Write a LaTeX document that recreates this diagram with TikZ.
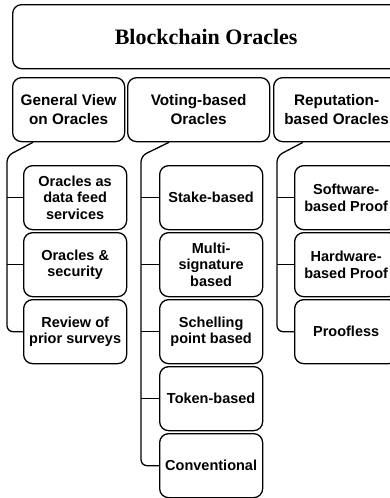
\documentclass[tikz,border=0pt]{standalone}
\usepackage{fontspec}
\setmainfont{Liberation Sans}
\newfontfamily\titlefont{Liberation Serif}
\begin{document}
\begin{tikzpicture}[x=1pt,y=-1pt,
  box/.style={draw, line width=1.3pt, rounded corners=9pt, inner sep=0pt, align=center,
    anchor=north west, minimum height=64pt, font=\fontsize{14.5}{16.5}\selectfont\bfseries},
  head/.style={box, font=\fontsize{15.3}{19}\selectfont\bfseries},
  leaf/.style={box, minimum width=103pt},
  conn/.style={line width=1.3pt, rounded corners=6pt}]
\useasboundingbox (0,0) rectangle (390,498);
\clip (0,0) rectangle (390,498);
% root
\node[box, minimum width=387pt, font=\titlefont\fontsize{22}{26}\selectfont\bfseries] (root) at (12,4) {Blockchain Oracles};
% heads
\node[head, minimum width=112pt] (gen) at (12,77) {General View\\on Oracles};
\node[head, minimum width=142pt] (vot) at (127,77) {Voting-based\\Oracles};
\node[head, minimum width=126pt] (rep) at (273,77) {Reputation-\\based Oracles};
% column 1
\node[leaf] (g1) at (23,165) {Oracles as\\data feed\\services};
\node[leaf] (g2) at (23,232) {Oracles \&\\security};
\node[leaf] (g3) at (23,299) {Review of\\prior surveys};
% column 2
\node[leaf] (v1) at (159,165) {Stake-based};
\node[leaf] (v2) at (159,232) {Multi-\\signature\\based};
\node[leaf] (v3) at (159,299) {Schelling\\point based};
\node[leaf] (v4) at (159,366) {Token-based};
\node[leaf] (v5) at (159,433) {Conventional};
% column 3
\node[leaf] (r1) at (294,165) {Software-\\based Proof};
\node[leaf] (r2) at (294,232) {Hardware-\\based Proof};
\node[leaf] (r3) at (294,299) {Proofless};
% connectors
\coordinate (t1) at (7,156);
\coordinate (t2) at (141,156);
\coordinate (t3) at (277,156);
\draw[conn] ([xshift=21pt]gen.south west) -- (t1) |- (g3.west);
\draw[conn] (g1.west) -- (g1.west -| t1);
\draw[conn] (g2.west) -- (g2.west -| t1);
\draw[conn] ([xshift=42pt]vot.south west) -- (t2) |- (v5.west);
\draw[conn] (v1.west) -- (v1.west -| t2);
\draw[conn] (v2.west) -- (v2.west -| t2);
\draw[conn] (v3.west) -- (v3.west -| t2);
\draw[conn] (v4.west) -- (v4.west -| t2);
\draw[conn] ([xshift=30pt]rep.south west) -- (t3) |- (r3.west);
\draw[conn] (r1.west) -- (r1.west -| t3);
\draw[conn] (r2.west) -- (r2.west -| t3);
\end{tikzpicture}
\end{document}
